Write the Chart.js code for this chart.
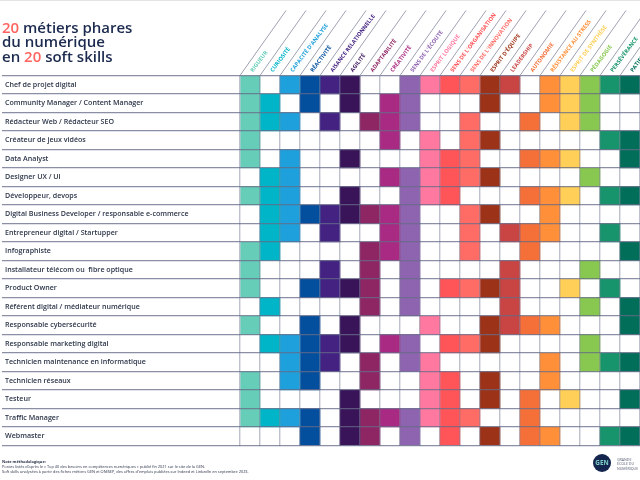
<!DOCTYPE html>
<html lang="fr">
<head>
<meta charset="utf-8">
<title>20 métiers phares du numérique en 20 soft skills</title>
<script src="https://cdn.jsdelivr.net/npm/chart.js@4"></script>
<style>
  html, body { margin: 0; padding: 0; background: #fff; overflow: hidden; }
  #page { position: relative; width: 640px; height: 480px; overflow: hidden; font-family: "Lato", sans-serif; }
  #topbar { position: absolute; left: 0; top: 0; width: 640px; height: 1px; background: #e4e4e4; }
  canvas { position: absolute; left: 0; top: 0; }
  #titre { position: absolute; left: 2px; top: 19.5px; font: 600 15px/14.9px "Open Sans", sans-serif; color: #1b2a4e; }
  #titre span { color: #ff6460; }
  #note { position: absolute; left: 2px; top: 458.5px; font: 3.92px/5.1px "Open Sans", sans-serif; color: #2a3348; white-space: nowrap; }
  #note b { font-weight: 700; }
  #logo { position: absolute; left: 593px; top: 454px; width: 18px; height: 18px; border-radius: 50%; background: #14264d;
    color: #7fd0c8; font: 700 6.4px/18px "Open Sans", sans-serif; text-align: center; }
  #logotxt { position: absolute; left: 617px; top: 458px; font: 3.6px/4.4px "Open Sans", sans-serif; color: #555c70; white-space: nowrap; }
</style>
</head>
<body>
<div id="page">
  <canvas id="matrice" width="640" height="480"></canvas>
  <div id="topbar"></div>
  <div id="titre"><span>20</span> métiers phares<br>du numérique<br>en <span>20</span> soft skills</div>
  <div id="note"><b>Note méthodologique:</b><br>Postes listés d'après le « Top 40 des besoins en compétences numériques » publié fin 2021 sur le site de la GEN.<br>Soft skills analysées à partir des fiches métiers GEN et ONISEP, des offres d'emplois publiées sur Indeed et LinkedIn en septembre 2023.</div>
  <div id="logo">GEN</div>
  <div id="logotxt">GRANDE<br>ÉCOLE DU<br>NUMÉRIQUE</div>
</div>
<script>
const metiers = [
  "Chef de projet digital",
  "Community Manager / Content Manager",
  "Rédacteur Web / Rédacteur SEO",
  "Créateur de jeux vidéos",
  "Data Analyst",
  "Designer UX / UI",
  "Développeur, devops",
  "Digital Business Developer / responsable e-commerce",
  "Entrepreneur digital / Startupper",
  "Infographiste",
  "Installateur télécom ou  fibre optique",
  "Product Owner",
  "Référent digital / médiateur numérique",
  "Responsable cybersécurité",
  "Responsable marketing digital",
  "Technicien maintenance en informatique",
  "Technicien réseaux",
  "Testeur",
  "Traffic Manager",
  "Webmaster",
];

const skills = [
  "RIGUEUR", "CURIOSITÉ", "CAPACITÉ D'ANALYSE", "RÉACTIVITÉ", "AISANCE RELATIONNELLE",
  "AGILITÉ", "ADAPTABILITÉ", "CRÉATIVITÉ", "SENS DE L'ÉCOUTE", "ESPRIT LOGIQUE",
  "SENS DE L'ORGANISATION", "SENS DE L'INNOVATION", "ESPRIT D'ÉQUIPE", "LEADERSHIP", "AUTONOMIE",
  "RÉSISTANCE AU STRESS", "ESPRIT DE SYNTHÈSE", "PÉDAGOGIE", "PERSÉVÉRANCE", "PATIENCE",
];

const couleurs = [
  "#66cdb8", "#00b5c8", "#1ea0dc", "#034f9d", "#432282",
  "#3a1459", "#8f2664", "#a82a82", "#8e63b0", "#ff789f",
  "#ff5558", "#ff6c65", "#9c3318", "#c84543", "#f47038",
  "#ff8f38", "#ffcf58", "#88c850", "#18946c", "#006e58",
];

// une ligne par metier, une colonne par soft skill
const cases = [
  [1,0,1,1,1,1,0,0,1,1,1,1,1,1,0,1,1,1,1,1],
  [1,1,0,1,0,1,0,1,1,0,0,0,1,0,0,1,1,1,0,0],
  [1,1,1,0,1,0,1,1,1,0,0,1,0,0,1,0,1,1,0,0],
  [1,0,0,0,0,0,0,1,0,1,0,1,1,0,0,0,0,0,1,1],
  [1,0,1,0,0,1,0,0,0,1,1,1,0,0,1,1,1,0,0,1],
  [0,1,1,0,0,0,0,1,1,1,1,1,1,0,0,0,0,1,0,0],
  [1,1,1,0,0,1,0,0,1,1,1,0,0,0,1,1,1,0,1,1],
  [0,1,1,1,1,1,1,1,1,0,0,1,1,0,0,1,0,0,0,0],
  [0,1,1,0,1,0,0,1,1,0,0,1,0,1,1,1,0,0,1,0],
  [1,1,0,0,0,0,1,1,1,0,0,1,0,0,1,0,0,0,0,1],
  [1,0,0,0,1,0,1,0,1,0,0,0,0,1,0,0,0,1,0,0],
  [1,0,0,1,1,1,1,0,1,0,1,1,1,1,0,0,1,0,1,0],
  [0,1,0,0,0,0,1,0,1,0,0,0,0,1,0,0,0,1,0,1],
  [1,0,0,1,0,1,0,0,0,1,0,0,1,1,1,1,0,0,0,1],
  [0,1,1,1,1,1,0,1,1,0,1,1,1,0,0,0,0,1,0,0],
  [0,0,1,1,1,0,1,0,1,1,0,0,0,0,0,1,0,1,1,1],
  [1,0,1,1,0,0,1,0,0,1,1,0,1,0,0,1,0,0,0,0],
  [1,0,0,0,0,1,0,0,0,1,1,0,1,0,1,0,1,0,0,1],
  [1,1,1,1,0,1,1,1,1,1,1,1,0,0,1,0,0,0,0,0],
  [0,0,0,1,0,1,1,0,1,0,1,0,1,0,1,1,0,0,1,1],
];

// traits obliques au dessus des colonnes
const diagonales = {
  id: "diagonales",
  afterDraw(chart) {
    const { ctx, chartArea, scales } = chart;
    ctx.save();
    ctx.strokeStyle = "#858a9e";
    ctx.lineWidth = 0.8;
    for (let i = 0; i <= skills.length; i++) {
      const x = scales.x.getPixelForValue(i);
      ctx.beginPath();
      ctx.moveTo(x, chartArea.top);
      ctx.lineTo(x + 46, chartArea.top - 65);
      ctx.stroke();
    }
    ctx.restore();
  },
};

new Chart(document.getElementById("matrice"), {
  type: "bar",
  data: {
    labels: metiers,
    datasets: skills.map((skill, c) => ({
      label: skill,
      data: cases.map((ligne) => (ligne[c] ? [c, c + 1] : null)),
      backgroundColor: couleurs[c],
      borderWidth: 0,
      grouped: false,
      barPercentage: 1,
      categoryPercentage: 1,
    })),
  },
  options: {
    indexAxis: "y",
    responsive: false,
    animation: false,
    layout: { padding: { left: 5, right: 0, top: 0, bottom: 34.5 } },
    plugins: { legend: { display: false }, tooltip: { enabled: false } },
    scales: {
      x: {
        type: "linear",
        position: "bottom",
        min: 0,
        max: 20,
        ticks: { display: false, stepSize: 1 },
        border: { display: false },
        grid: { color: "rgba(125,130,155,0.5)", lineWidth: 1.4, z: 1, drawTicks: false },
        afterFit: (s) => { s.height = 0; s.paddingLeft = 0; s.paddingRight = 0; },
      },
      x2: {
        type: "category",
        labels: skills,
        position: "top",
        offset: true,
        border: { display: false },
        grid: { display: false, drawTicks: false },
        ticks: {
          autoSkip: false,
          minRotation: 53,
          maxRotation: 53,
          padding: 2,
          labelOffset: 7,
          color: couleurs,
          font: { family: "Open Sans", size: 5.6, weight: "700" },
        },
        afterFit: (s) => { s.height = 75.5; s.paddingLeft = 0; s.paddingRight = 0; },
      },
      y: {
        type: "category",
        position: "left",
        offset: true,
        border: { display: false },
        grid: { offset: true, color: "rgba(100,105,135,0.75)", lineWidth: 1.2, z: 1, tickLength: 238 },
        ticks: {
          autoSkip: false,
          crossAlign: "far",
          color: "#2b3448",
          font: { family: "Open Sans", size: 7.1, weight: "600" },
        },
        afterFit: (s) => { s.width = 235; s.paddingTop = 0; s.paddingBottom = 0; },
      },
    },
  },
  plugins: [diagonales],
});
</script>
</body>
</html>
